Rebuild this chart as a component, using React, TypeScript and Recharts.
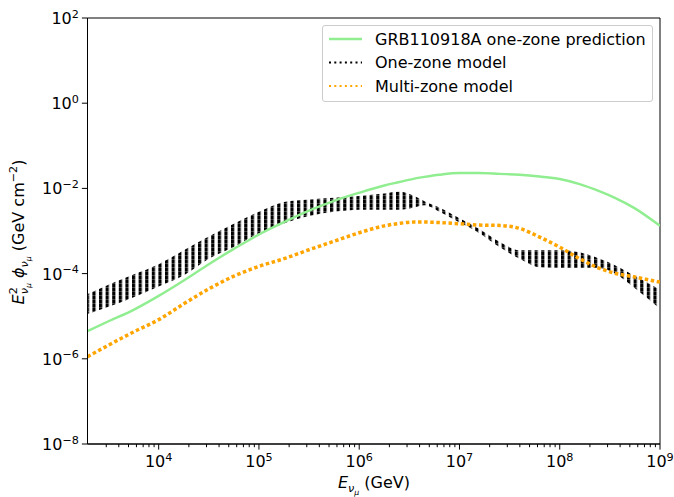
import React from "react";
import { ComposedChart, Line, Area, XAxis, YAxis, ReferenceArea } from "recharts";

// Energy grid (GeV)
const energies = [
  1.95e3, 3.16e3, 5.62e3, 1e4, 1.78e4, 3.16e4, 5.62e4, 1e5, 1.78e5, 3.16e5, 5.62e5,
  1e6, 1.78e6, 2.51e6, 3.55e6, 4.47e6, 6.31e6, 1e7, 1.58e7, 2.51e7, 3.98e7, 6.31e7,
  1e8, 1.58e8, 2.51e8, 3.55e8, 5.62e8, 1e9,
];

// GRB110918A one-zone prediction (GeV cm^-2)
const grbPrediction = [
  4.47e-6, 7.6e-6, 1.41e-5, 3.0e-5, 6.9e-5, 1.66e-4, 3.8e-4, 8.3e-4, 1.62e-3, 3.0e-3, 5.1e-3,
  7.9e-3, 1.17e-2, 1.41e-2, 1.7e-2, 1.86e-2, 2.09e-2, 2.29e-2, 2.29e-2, 2.19e-2, 2.09e-2, 1.9e-2,
  1.66e-2, 1.26e-2, 8.5e-3, 6.0e-3, 3.4e-3, 1.32e-3,
];

// One-zone model: oscillation envelope (upper / lower)
const oneZoneUpper = [
  3.3e-5, 5.5e-5, 9.5e-5, 1.66e-4, 3.55e-4, 7.4e-4, 1.48e-3, 2.82e-3, 4.8e-3, 5.5e-3, 6.0e-3,
  6.6e-3, 7.6e-3, 8.3e-3, 6.6e-3, 5.0e-3, 3.55e-3, 2.0e-3, 1.12e-3, 5.6e-4, 3.55e-4, 3.55e-4,
  3.55e-4, 3.16e-4, 2.24e-4, 1.58e-4, 8.9e-5, 4.2e-5,
];
const oneZoneLower = [
  1.12e-5, 1.66e-5, 2.8e-5, 5.0e-5, 9.1e-5, 2.24e-4, 4.2e-4, 8.9e-4, 1.51e-3, 2.24e-3, 2.82e-3,
  3.16e-3, 3.16e-3, 3.16e-3, 3.55e-3, 4.0e-3, 2.82e-3, 1.58e-3, 8.9e-4, 4.2e-4, 2.24e-4, 1.41e-4,
  1.35e-4, 1.35e-4, 1.35e-4, 1.0e-4, 4.5e-5, 1.5e-5,
];

// Multi-zone model
const multiZone = [
  1.12e-6, 2.09e-6, 4.27e-6, 8.3e-6, 1.95e-5, 4.37e-5, 8.7e-5, 1.48e-4, 2.24e-4, 3.63e-4, 5.75e-4,
  9.1e-4, 1.32e-3, 1.51e-3, 1.62e-3, 1.62e-3, 1.58e-3, 1.48e-3, 1.38e-3, 1.35e-3, 1.15e-3, 7.2e-4,
  4.17e-4, 2.24e-4, 1.32e-4, 1.02e-4, 8.3e-5, 6.3e-5,
];

const xMajorTicks = [1e4, 1e5, 1e6, 1e7, 1e8, 1e9];
const xMinorTicks = [
  3e3, 4e3, 5e3, 6e3, 7e3, 8e3, 9e3,
  2e4, 3e4, 4e4, 5e4, 6e4, 7e4, 8e4, 9e4,
  2e5, 3e5, 4e5, 5e5, 6e5, 7e5, 8e5, 9e5,
  2e6, 3e6, 4e6, 5e6, 6e6, 7e6, 8e6, 9e6,
  2e7, 3e7, 4e7, 5e7, 6e7, 7e7, 8e7, 9e7,
  2e8, 3e8, 4e8, 5e8, 6e8, 7e8, 8e8, 9e8,
];
const yTicks = [1e-8, 1e-6, 1e-4, 1e-2, 1, 1e2];
const xDomain = [1.95e3, 1e9];
const yDomain = [1e-8, 1e2];

const legendLabels = ["GRB110918A one-zone prediction", "One-zone model", "Multi-zone model"];

const data = energies.map((e, i) => ({
  e,
  grb: grbPrediction[i],
  one: [oneZoneLower[i], oneZoneUpper[i]],
  multi: multiZone[i],
}));

const FONT = "DejaVu Sans, sans-serif";
const FS = 16;
const SFS = 11.2;

const expOf = (v: number) => Math.round(Math.log10(v));

const XTick = (props: any) => {
  const { x, y, payload } = props;
  const v = payload.value;
  const major = xMajorTicks.includes(v);
  return (
    <g>
      <line x1={x} x2={x} y1={y} y2={y + (major ? 5.6 : 3.2)} stroke="#000" strokeWidth={1} />
      {major && (
        <text x={x} y={y + 23} textAnchor="middle" fontFamily={FONT} fontSize={FS} fill="#000">
          <tspan>10</tspan>
          <tspan dy={-6} fontSize={SFS}>{expOf(v)}</tspan>
        </text>
      )}
    </g>
  );
};

const YTick = (props: any) => {
  const { x, y, payload } = props;
  const n = expOf(payload.value);
  const s = n < 0 ? "\u2212" + Math.abs(n) : String(n);
  return (
    <text x={x} y={y + 6} textAnchor="end" fontFamily={FONT} fontSize={FS} fill="#000">
      <tspan>10</tspan>
      <tspan dy={-6.5} fontSize={SFS}>{s}</tspan>
    </text>
  );
};

const LegendBox = () => (
  <div
    style={{
      position: "absolute",
      left: 322,
      top: 25,
      width: 331,
      height: 77,
      border: "1px solid #cccccc",
      borderRadius: 3,
      background: "rgba(255,255,255,0.8)",
      boxSizing: "border-box",
    }}
  >
    <svg width={331} height={77} style={{ position: "absolute", left: -1, top: -1 }}>
      <line x1={7} x2={40} y1={14} y2={14} stroke="#90ee90" strokeWidth={2.4} />
      <line x1={7} x2={40} y1={37.5} y2={37.5} stroke="#000" strokeWidth={2} strokeDasharray="2 3.3" />
      <line x1={7} x2={40} y1={61} y2={61} stroke="#ffa500" strokeWidth={2} strokeDasharray="2 3.3" />
      <text x={53} y={19.7} fontFamily={FONT} fontSize={FS} fill="#000">{legendLabels[0]}</text>
      <text x={53} y={43.2} fontFamily={FONT} fontSize={FS} fill="#000">{legendLabels[1]}</text>
      <text x={53} y={66.7} fontFamily={FONT} fontSize={FS} fill="#000">{legendLabels[2]}</text>
    </svg>
  </div>
);

export default function App() {
  return (
    <div style={{ position: "absolute", left: 0, top: 0, width: 674, height: 497, background: "#fff" }}>
      <ComposedChart
        width={674}
        height={497}
        data={data}
        margin={{ top: 18, right: 14, bottom: 23, left: 27.5 }}
      >
        <defs>
          <pattern id="oneZoneBars" patternUnits="userSpaceOnUse" width={6.6} height={4}>
            <rect x={0} y={0} width={3.2} height={3.75} fill="#000" />
          </pattern>
        </defs>
        <XAxis
          dataKey="e"
          type="number"
          scale="log"
          domain={xDomain}
          allowDataOverflow
          ticks={[...xMinorTicks, ...xMajorTicks]}
          interval={0}
          tick={<XTick />}
          tickLine={false}
          tickSize={0}
          tickMargin={0}
          axisLine={{ stroke: "#000", strokeWidth: 1 }}
          height={30}
        />
        <YAxis
          type="number"
          scale="log"
          domain={yDomain}
          allowDataOverflow
          ticks={yTicks}
          interval={0}
          tick={<YTick />}
          tickLine={{ stroke: "#000", strokeWidth: 1 }}
          tickSize={5.6}
          tickMargin={3}
          axisLine={{ stroke: "#000", strokeWidth: 1 }}
          width={60}
        />
        <ReferenceArea
          x1={xDomain[0]}
          x2={xDomain[1]}
          y1={yDomain[0]}
          y2={yDomain[1]}
          fill="none"
          stroke="#000"
          strokeWidth={1}
          ifOverflow="visible"
        />
        <Line
          dataKey="grb"
          type="monotone"
          stroke="#90ee90"
          strokeWidth={2.4}
          dot={false}
          isAnimationActive={false}
        />
        <Area
          dataKey="one"
          type="monotone"
          stroke="none"
          fill="url(#oneZoneBars)"
          fillOpacity={1}
          isAnimationActive={false}
        />
        <Line
          dataKey="multi"
          type="monotone"
          stroke="#ffa500"
          strokeWidth={3.5}
          strokeDasharray="3.5 2.6"
          dot={false}
          isAnimationActive={false}
        />
      </ComposedChart>
      <LegendBox />
      <svg width={674} height={497} style={{ position: "absolute", left: 0, top: 0, pointerEvents: "none" }}>
        <text
          transform="translate(24 232) rotate(-90)"
          textAnchor="middle"
          fontFamily={FONT}
          fontSize={FS}
          fill="#000"
        >
          <tspan fontStyle="italic">E</tspan>
          <tspan fontSize={SFS} dy={-7}>2</tspan>
          <tspan fontSize={SFS} fontStyle="italic" dx={-7.1} dy={11}>ν</tspan>
          <tspan fontSize={7.8} fontStyle="italic" dy={2.5}>μ</tspan>
          <tspan dy={-6.5}>{"  "}</tspan>
          <tspan fontStyle="italic">ϕ</tspan>
          <tspan fontSize={SFS} fontStyle="italic" dy={4}>ν</tspan>
          <tspan fontSize={7.8} fontStyle="italic" dy={2.5}>μ</tspan>
          <tspan dy={-6.5}>{" (GeV cm"}</tspan>
          <tspan fontSize={SFS} dy={-7}>{"\u22122"}</tspan>
          <tspan dy={7}>)</tspan>
        </text>
        <text x={374} y={488} textAnchor="middle" fontFamily={FONT} fontSize={FS} fill="#000">
          <tspan fontStyle="italic">E</tspan>
          <tspan fontSize={SFS} fontStyle="italic" dy={4}>ν</tspan>
          <tspan fontSize={7.8} fontStyle="italic" dy={2.5}>μ</tspan>
          <tspan dy={-6.5}>{" (GeV)"}</tspan>
        </text>
      </svg>
    </div>
  );
}
